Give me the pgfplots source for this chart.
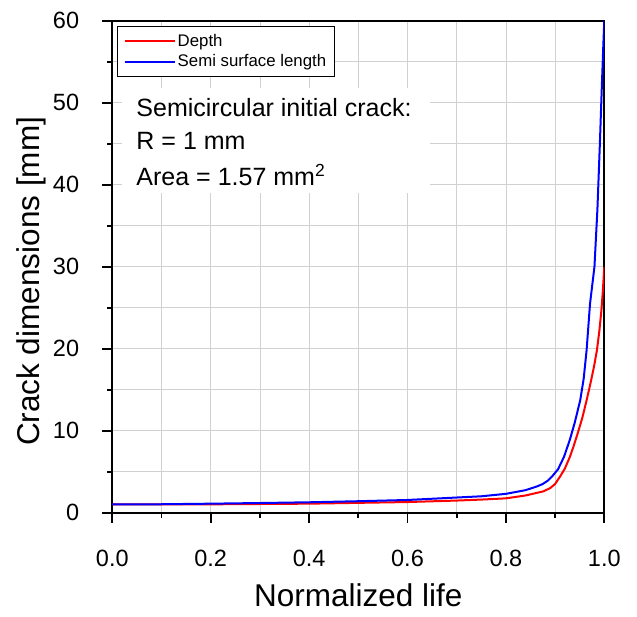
\documentclass[border=0pt]{standalone}
\usepackage{fontspec}
\setmainfont{Liberation Sans}
\usepackage{pgfplots}
\pgfplotsset{compat=1.18}
\begin{document}
\begin{tikzpicture}
\begin{axis}[
  scale only axis, width=492pt, height=492pt,
  xmin=0, xmax=1, ymin=0, ymax=60,
  xtick={0,0.2,0.4,0.6,0.8,1},
  xticklabels={0.0,0.2,0.4,0.6,0.8,1.0},
  minor xtick={0.1,0.3,0.5,0.7,0.9},
  ytick={0,10,20,30,40,50,60},
  minor ytick={5,15,25,35,45,55},
  grid=both,
  major grid style={black!18, line width=0.8pt},
  minor grid style={black!18, line width=0.8pt},
  tick align=outside, tick pos=left,
  major tick length=10pt, minor tick length=5pt,
  every tick/.style={black, line width=1.8pt},
  axis line style={line width=2pt},
  /pgf/number format/assume math mode=true,
  tick label style={font=\fontsize{23.5}{23.5}\selectfont},
  xticklabel style={inner sep=0pt, anchor=north, yshift=-27pt},
  yticklabel style={inner sep=0pt, anchor=east, xshift=-23pt},
  every axis x label/.style={at={(axis description cs:0.5,-0.191)}, anchor=base, font=\fontsize{31.5}{31.5}\selectfont},
  every axis y label/.style={at={(axis description cs:-0.1646,0.47)}, rotate=90, anchor=center, font=\fontsize{31.5}{31.5}\selectfont},
  xlabel={Normalized life},
  ylabel={Crack dimensions [mm]},
  legend style={at={(rel axis cs:0.0102,0.9898)}, anchor=north west, draw=black, line width=0.8pt, fill=white,
    font=\fontsize{16.8}{16.8}\selectfont, inner xsep=6pt, inner ysep=6pt, row sep=3pt, cells={anchor=west}},
  legend image code/.code={\path (0pt,0pt) -- (50pt,0pt); \draw[#1] (7pt,0pt) -- (47pt,0pt);},
]
\fill[white] (axis cs:0.02,39) rectangle (axis cs:0.645,51.8);
\addplot[color=red, line width=2pt] table {
0 1.0
0.1 1.0
0.2 1.02
0.3 1.06
0.4 1.1
0.5 1.2
0.6 1.3
0.7 1.48
0.75 1.6
0.8 1.75
0.84 2.1
0.876 2.6
0.89 3.0
0.90 3.5
0.91 4.4
0.92 5.4
0.93 6.8
0.937 8.0
0.945 9.5
0.955 11.5
0.964 13.7
0.972 15.8
0.979 17.8
0.985 19.8
0.990 22.2
0.994 24.6
0.997 27.0
1.0 30.0
};
\addlegendentry{Depth}
\addplot[color=blue, line width=2pt] table {
0 1.0
0.1 1.03
0.2 1.1
0.3 1.18
0.4 1.27
0.5 1.4
0.6 1.55
0.7 1.85
0.75 2.0
0.8 2.3
0.84 2.75
0.863 3.2
0.875 3.5
0.885 3.9
0.895 4.5
0.906 5.3
0.918 6.8
0.930 8.9
0.940 11.0
0.951 13.7
0.958 16.3
0.964 19.8
0.971 25.5
0.980 30
0.986 37
0.991 45
0.995 52
0.998 57
1.0 60
};
\addlegendentry{Semi surface length}
\node[anchor=base west, font=\fontsize{25}{25}\selectfont] at (axis cs:0.042,48.29) {Semicircular initial crack:};
\node[anchor=base west, font=\fontsize{25}{25}\selectfont] at (axis cs:0.042,44.32) {R = 1 mm};
\node[anchor=base west, font=\fontsize{25}{25}\selectfont] at (axis cs:0.042,39.88) {Area = 1.57 mm\textsuperscript{2}};
\end{axis}
\pgfresetboundingbox
\path (-112.3pt,-104.3pt) rectangle (524.7pt,512.7pt);
\end{tikzpicture}
\end{document}
